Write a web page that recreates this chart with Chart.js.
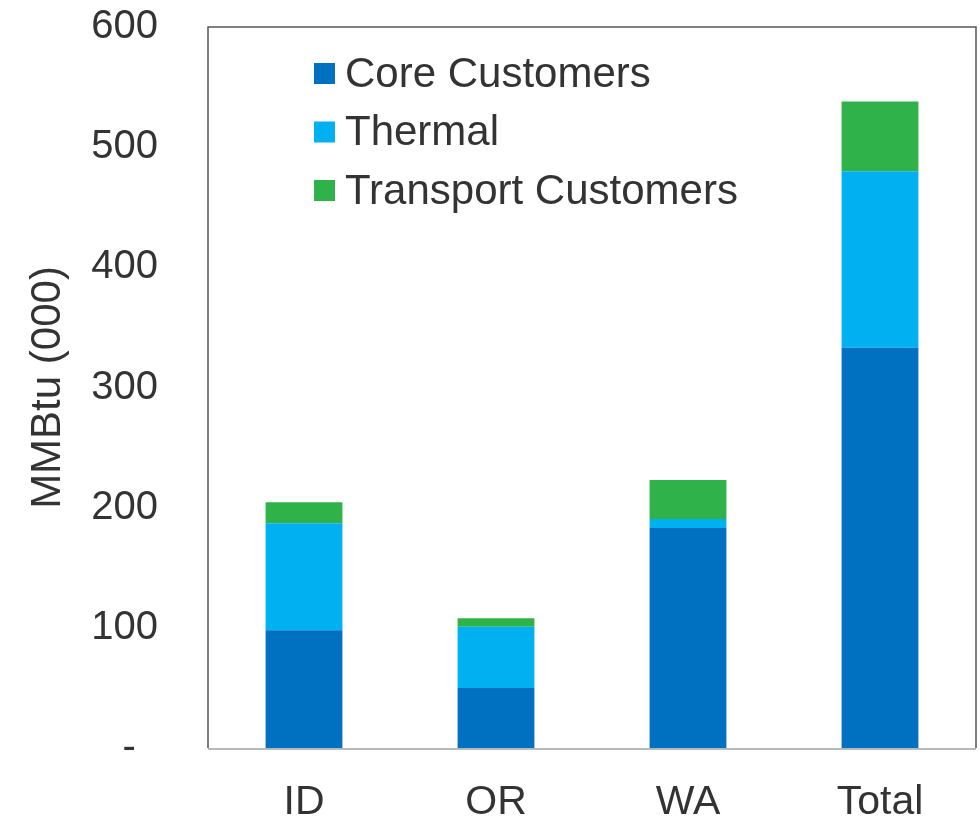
<!DOCTYPE html>
<html>
<head>
<meta charset="utf-8">
<script src="https://cdn.jsdelivr.net/npm/chart.js@4"></script>
<style>
  html, body { margin: 0; padding: 0; background: #fff; }
  #wrap { width: 980px; height: 819px; }
</style>
</head>
<body>
<div id="wrap"><canvas id="chart"></canvas></div>
<script>
let categories = ['ID', 'OR', 'WA', 'Total']
let coreCustomers = [98, 50, 183, 333]
let thermal = [89, 51, 7.5, 147]
let transportCustomers = [17.5, 7, 32.5, 58]
let yTicks = [0, 100, 200, 300, 400, 500, 600]

let textColor = '#333333'
let fontFamily = '"Liberation Sans", Arial, sans-serif'

// legend drawn inside the plot, top left
let insideLegend = {
    id: 'insideLegend',
    afterDraw(chart) {
        let ctx = chart.ctx
        let area = chart.chartArea
        ctx.save()
        ctx.font = '42px ' + fontFamily
        ctx.textBaseline = 'middle'
        ctx.textAlign = 'left'
        chart.data.datasets.forEach((ds, i) => {
            let y = area.top + 47 + i * 58.5
            let x = area.left + 106
            ctx.fillStyle = ds.backgroundColor
            ctx.fillRect(x, y - 11, 21, 21)
            ctx.fillStyle = textColor
            ctx.fillText(ds.label, x + 31, y + 1)
        })
        ctx.restore()
    },
}

// box round the plot area
let frame = {
    id: 'frame',
    afterDatasetsDraw(chart) {
        let ctx = chart.ctx
        let a = chart.chartArea
        ctx.save()
        ctx.strokeStyle = '#555555'
        ctx.lineWidth = 1.5
        ctx.beginPath()
        ctx.moveTo(a.left, a.bottom)
        ctx.lineTo(a.left, a.top)
        ctx.lineTo(a.right, a.top)
        ctx.lineTo(a.right, a.bottom)
        ctx.stroke()
        ctx.strokeStyle = '#b8b8b8'
        ctx.lineWidth = 2
        ctx.beginPath()
        ctx.moveTo(a.left, a.bottom + 1)
        ctx.lineTo(a.right, a.bottom + 1)
        ctx.stroke()
        ctx.restore()
    },
}

new Chart(document.getElementById('chart'), {
    type: 'bar',
    data: {
        labels: categories,
        datasets: [
            {label: 'Core Customers', data: coreCustomers, backgroundColor: '#0070C0'},
            {label: 'Thermal', data: thermal, backgroundColor: '#00B0F0'},
            {label: 'Transport Customers', data: transportCustomers, backgroundColor: '#2FB24A'},
        ],
    },
    options: {
        responsive: true,
        maintainAspectRatio: false,
        animation: false,
        layout: {padding: {top: 27, right: 4, left: 23, bottom: 0}},
        datasets: {bar: {barPercentage: 0.4, categoryPercentage: 1}},
        plugins: {
            legend: {display: false},
            tooltip: {enabled: false},
        },
        scales: {
            x: {
                stacked: true,
                grid: {display: false, drawTicks: false},
                border: {display: false},
                ticks: {
                    color: textColor,
                    font: {size: 41, family: fontFamily},
                    padding: 30,
                },
                afterFit(scale) {
                    scale.height = 71
                    scale.paddingLeft = 0
                    scale.paddingRight = 0
                },
            },
            y: {
                stacked: true,
                min: 0,
                max: 600,
                afterBuildTicks(scale) { scale.ticks = yTicks.map(v => ({value: v})) },
                grid: {display: false, drawTicks: false},
                border: {display: false},
                ticks: {
                    color: textColor,
                    font: {size: 40, family: fontFamily},
                    padding: 50,
                    callback: v => v === 0 ? '-  ' : v,
                },
                title: {
                    display: true,
                    text: 'MMBtu (000)',
                    color: textColor,
                    font: {size: 42, family: fontFamily},
                    padding: 0,
                },
                afterFit(scale) {
                    scale.width = 185
                    scale.paddingTop = 0
                    scale.paddingBottom = 0
                },
            },
        },
    },
    plugins: [insideLegend, frame],
})
</script>
</body>
</html>
